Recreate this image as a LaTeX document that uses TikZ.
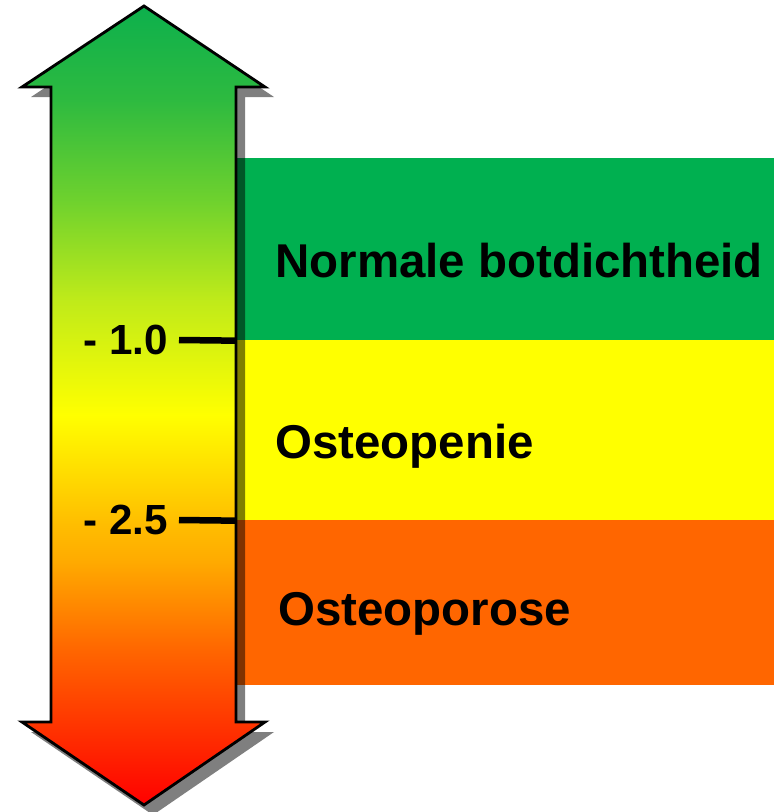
\documentclass[tikz,border=0pt]{standalone}
\usepackage{fontspec}
\setmainfont{Liberation Sans}
\definecolor{bandgreen}{RGB}{0,176,80}
\definecolor{bandyellow}{RGB}{255,255,0}
\definecolor{bandorange}{RGB}{255,102,0}
\pgfdeclareverticalshading{scoreshade}{100bp}{rgb(0bp)=(1,0,0); rgb(25bp)=(1,0,0); rgb(34.7bp)=(1,0.4,0); rgb(40.3bp)=(1,0.67,0); rgb(42.8bp)=(1,0.75,0); rgb(49.4bp)=(1,1,0); rgb(56.6bp)=(0.75,0.92,0.1); rgb(62.9bp)=(0.43,0.82,0.18); rgb(69.1bp)=(0.18,0.73,0.25); rgb(75bp)=(0.05,0.69,0.3); rgb(100bp)=(0.05,0.69,0.3)}
\newcommand{\scorearrow}{(144,6) -- (265,87) -- (236,87) -- (236,722) -- (265,722) -- (144,805) -- (22,722) -- (51,722) -- (51,87) -- (22,87) -- cycle}
\usetikzlibrary{positioning}

\begin{document}
\begin{tikzpicture}[x=0.02cm, y=-0.02cm,
  band/.style={anchor=north west, inner sep=0pt, minimum width=10.8cm},
  bandtext/.style={anchor=base west, inner sep=0pt, font=\fontsize{27}{32}\selectfont\bfseries},
  score/.style={anchor=east, inner xsep=6pt, font=\fontsize{24}{28}\selectfont\bfseries},
  tick/.style={line width=3.7pt},
  outline/.style={draw=black, line width=1.6pt, line join=miter},
]
\useasboundingbox (0,0) rectangle (774,812);

% Categories
\node[band, fill=bandgreen, minimum height=3.64cm] (normal) at (236,158) {};
\node[band, fill=bandyellow, minimum height=3.6cm] (penie) at (236,340) {};
\node[band, fill=bandorange, minimum height=3.3cm] (porose) at (236,520) {};
\node[bandtext] (normaltxt) at (275,277) {Normale botdichtheid};
\node[bandtext] (penietxt) at (275,458) {Osteopenie};
\node[bandtext] (porosetxt) at (278,625) {Osteoporose};

% Arrow with shadow
\fill[black, opacity=0.5, shift={(9,10)}] \scorearrow;
\path[shading=scoreshade, outline] \scorearrow;

% T-score marks
\node[score] (one) at (179,340) {- 1.0};
\node[score] (twofive) at (179,520) {- 2.5};
\draw[tick] (one.east) -- (normal.south west);
\draw[tick] (twofive.east) -- (penie.south west);
\end{tikzpicture}
\end{document}
